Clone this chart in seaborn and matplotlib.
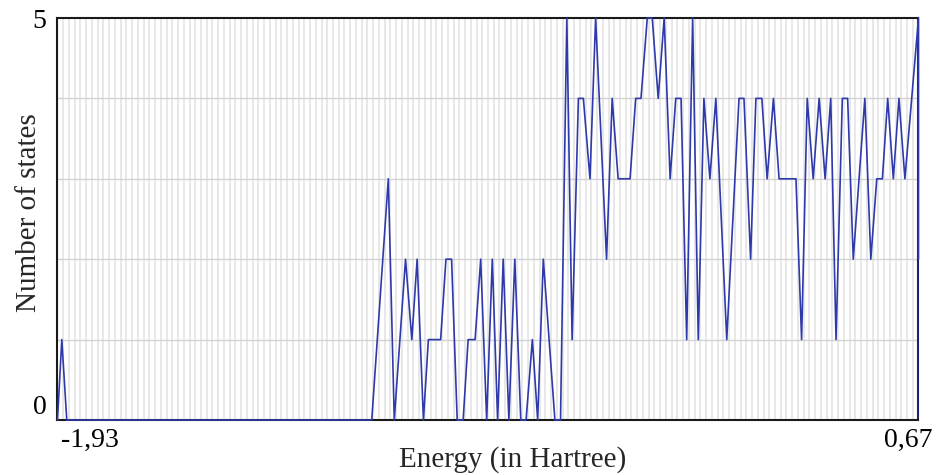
import numpy as np
import pandas as pd
import matplotlib
matplotlib.use("Agg")
import matplotlib.pyplot as plt
import matplotlib.transforms as mtransforms
import seaborn as sns

# Density of states: energy (Hartree) vs. number of states
energy = [
    -1.930, -1.917, -1.902, -0.981, -0.931, -0.913, -0.879, -0.860, -0.844, -0.825,
    -0.810, -0.773, -0.757, -0.740, -0.723, -0.705, -0.690, -0.669, -0.652, -0.634,
    -0.617, -0.601, -0.584, -0.567, -0.549, -0.531, -0.515, -0.496, -0.480, -0.463,
    -0.428, -0.411, -0.392, -0.376, -0.357, -0.342, -0.322, -0.305, -0.272, -0.255,
    -0.237, -0.201, -0.184, -0.168, -0.149, -0.134, -0.116, -0.098, -0.080, -0.063,
    -0.047, -0.030, -0.012, 0.005, 0.022, 0.040, 0.058, 0.091, 0.128, 0.143,
    0.163, 0.179, 0.197, 0.213, 0.232, 0.249, 0.300, 0.317, 0.334, 0.352,
    0.370, 0.388, 0.405, 0.421, 0.440, 0.456, 0.473, 0.508, 0.526, 0.544,
    0.561, 0.577, 0.594, 0.611, 0.629, 0.670, 0.670,
]
states = [
    0, 1, 0, 0, 3, 0, 2, 1, 2, 0,
    1, 1, 2, 2, 0, 0, 1, 1, 2, 0,
    2, 0, 2, 0, 2, 0, 0, 1, 0, 2,
    0, 0, 5, 1, 4, 4, 3, 5, 2, 4,
    3, 3, 4, 4, 5, 5, 4, 5, 3, 4,
    4, 1, 5, 1, 4, 3, 4, 1, 4, 4,
    2, 4, 4, 3, 4, 3, 3, 1, 4, 3,
    4, 3, 4, 1, 4, 4, 2, 4, 2, 3,
    3, 4, 3, 4, 3, 5, 2,
]

x_min, x_max = -1.93, 0.67
x_tick_labels = ["-1,93", "0,67"]
y_ticks = [0, 5]
y_tick_labels = ["0", "5"]

df = pd.DataFrame({"Energy": energy, "States": states})

sns.set_theme(style="white")
plt.rcParams["font.family"] = ["Liberation Serif", "DejaVu Serif"]

fig = plt.figure(figsize=(9.38, 4.75), dpi=100)
ax = fig.add_axes([0.0613, 0.1158, 0.9179, 0.8463])

# fine energy grid behind the curve
ax.set_xticks(np.linspace(x_min, x_max, 151), minor=True)
ax.set_yticks([1, 2, 3, 4], minor=True)
ax.grid(which="minor", axis="x", color="#e2e2e2", linewidth=1.1)
ax.grid(which="minor", axis="y", color="#d2d2d2", linewidth=1.0)
ax.grid(which="major", visible=False)
ax.set_axisbelow(True)

sns.lineplot(data=df, x="Energy", y="States", sort=False, estimator=None,
             color="#2f3aaa", linewidth=1.2, ax=ax, clip_on=False, zorder=5)

ax.set_xlim(x_min, x_max)
ax.set_ylim(0, 5)

ax.set_xticks([x_min, x_max])
ax.set_xticklabels(x_tick_labels)
ax.set_yticks(y_ticks)
ax.set_yticklabels(y_tick_labels)
ax.tick_params(axis="both", which="both", length=0, labelsize=20, colors="black")
ax.tick_params(axis="x", pad=6)
ax.tick_params(axis="y", pad=8)

xl = ax.get_xticklabels()
xl[0].set_horizontalalignment("left")
xl[0].set_transform(xl[0].get_transform() + mtransforms.ScaledTranslation(4 / 100, 0, fig.dpi_scale_trans))
xl[1].set_transform(xl[1].get_transform() + mtransforms.ScaledTranslation(-10 / 100, 0, fig.dpi_scale_trans))
yl = ax.get_yticklabels()
yl[0].set_verticalalignment("bottom")

ax.set_xlabel("Energy (in Hartree)", fontsize=21)
ax.set_ylabel("Number of states", fontsize=21)
ax.xaxis.set_label_coords(0.5285, -0.064)
ax.yaxis.set_label_coords(-0.018, 0.515)

for side in ["left", "right", "top", "bottom"]:
    ax.spines[side].set_visible(True)
    ax.spines[side].set_color("#1a1a1a")
    ax.spines[side].set_linewidth(1.5)
ax.spines["right"].set_color("#1c2270")

fig.savefig("out.png", dpi=100, facecolor="white")
